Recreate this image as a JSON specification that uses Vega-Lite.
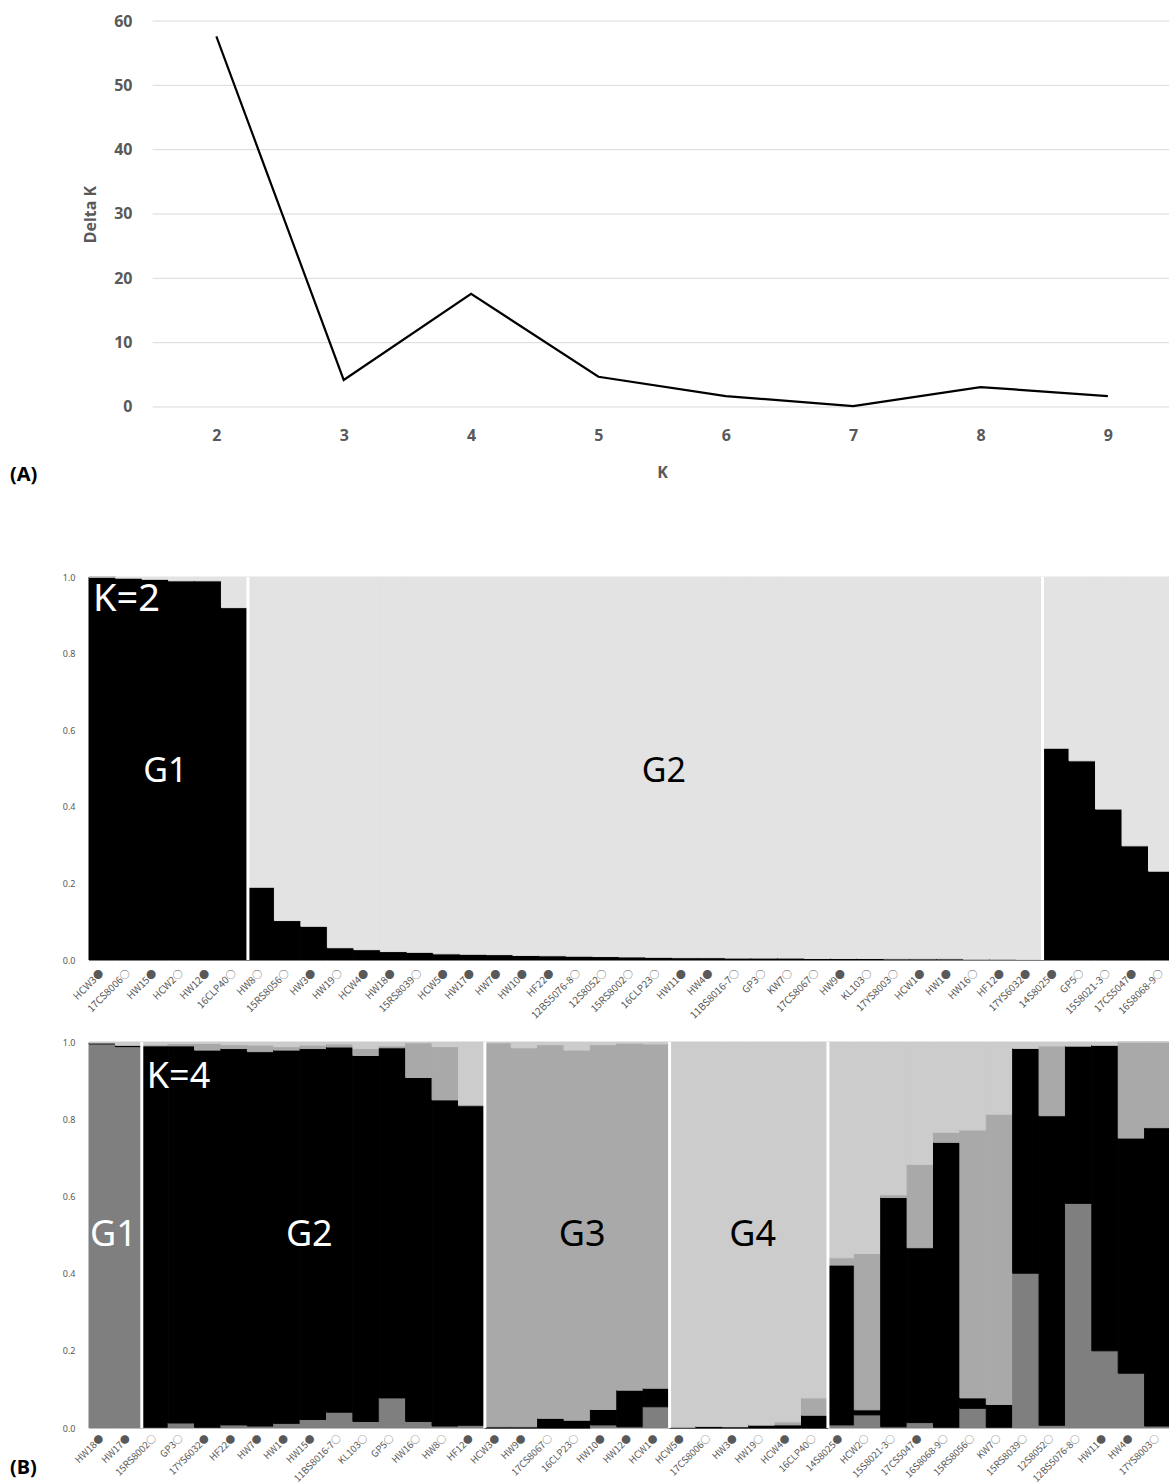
{
  "$schema": "https://vega.github.io/schema/vega-lite/v6.json",
  "padding": {"left": 10, "top": 13, "right": 0, "bottom": 0},
  "bounds": "flush",
  "spacing": 82,
  "resolve": {"scale": {"color": "independent", "stroke": "independent"}},
  "config": {"view": {"stroke": null}, "font": "Noto Sans"},
  "vconcat": [
    {
      "width": 1080,
      "height": 474,
      "layer": [
        {
          "data": {"values": [{"g": 0}, {"g": 10}, {"g": 20}, {"g": 30}, {"g": 40}, {"g": 50}, {"g": 60}]},
          "mark": {"type": "rule", "color": "#d9d9d9", "strokeWidth": 1},
          "encoding": {
            "x": {"datum": 1.5, "type": "quantitative", "scale": {"domain": [1, 9.48], "nice": false, "zero": false}},
            "x2": {"datum": 9.48},
            "y": {"field": "g", "type": "quantitative", "scale": {"domain": [-13.68, 60], "nice": false, "zero": false}}
          }
        },
        {
          "data": {"values": [
            {"K": 2, "dk": 57.6}, {"K": 3, "dk": 4.2}, {"K": 4, "dk": 17.6}, {"K": 5, "dk": 4.7},
            {"K": 6, "dk": 1.7}, {"K": 7, "dk": 0.15}, {"K": 8, "dk": 3.1}, {"K": 9, "dk": 1.7}
          ]},
          "mark": {"type": "line", "color": "#000000", "strokeWidth": 2.2},
          "encoding": {
            "x": {
              "field": "K", "type": "quantitative",
              "scale": {"domain": [1, 9.48], "nice": false, "zero": false},
              "axis": {
                "values": [2, 3, 4, 5, 6, 7, 8, 9], "format": "d", "offset": -88, "domain": false, "ticks": false, "grid": false,
                "labelFontSize": 16, "labelFontWeight": "bold", "labelColor": "#595959", "labelPadding": 20,
                "title": "K", "titleFontSize": 16, "titleFontWeight": "bold", "titleColor": "#595959",
                "titleX": 573, "titleY": 65, "titleBaseline": "middle", "titleAlign": "center"
              }
            },
            "y": {
              "field": "dk", "type": "quantitative",
              "scale": {"domain": [-13.68, 60], "nice": false, "zero": false},
              "axis": {
                "values": [0, 10, 20, 30, 40, 50, 60], "offset": -63, "domain": false, "ticks": false, "grid": false,
                "labelFontSize": 16, "labelFontWeight": "bold", "labelColor": "#595959", "labelPadding": 20,
                "title": "Delta K", "titleFontSize": 16, "titleFontWeight": "bold", "titleColor": "#595959",
                "titleX": -62, "titleY": 193, "titleAngle": -90, "titleBaseline": "middle", "titleAlign": "center"
              }
            }
          }
        },
        {
          "data": {"values": [{"t": "(A)"}]},
          "mark": {"type": "text", "align": "left", "baseline": "middle", "fontSize": 20, "fontWeight": "bold", "color": "#000000", "dx": -79},
          "encoding": {
            "x": {"datum": 1, "type": "quantitative", "scale": {"domain": [1, 9.48], "nice": false, "zero": false}},
            "y": {"datum": -10.5, "type": "quantitative", "scale": {"domain": [-13.68, 60], "nice": false, "zero": false}},
            "text": {"field": "t"}
          }
        }
      ]
    },
    {
      "width": 1086,
      "height": 383,
      "view": {"fill": "#e3e3e3", "stroke": null},
      "layer": [
        {
          "data": {"values": [
            {"ind": "HCW3●", "q1": 1.0, "q2": 0.0},
            {"ind": "17CS8006○", "q1": 0.997, "q2": 0.003},
            {"ind": "HW15●", "q1": 0.994, "q2": 0.006},
            {"ind": "HCW2○", "q1": 0.99, "q2": 0.01},
            {"ind": "HW12●", "q1": 0.99, "q2": 0.01},
            {"ind": "16CLP40○", "q1": 0.92, "q2": 0.08},
            {"ind": "HW8○", "q1": 0.19, "q2": 0.81},
            {"ind": "15RS8056○", "q1": 0.103, "q2": 0.897},
            {"ind": "HW3●", "q1": 0.088, "q2": 0.912},
            {"ind": "HW19○", "q1": 0.032, "q2": 0.968},
            {"ind": "HCW4●", "q1": 0.027, "q2": 0.973},
            {"ind": "HW18●", "q1": 0.022, "q2": 0.978},
            {"ind": "15RS8039○", "q1": 0.02, "q2": 0.98},
            {"ind": "HCW5●", "q1": 0.016, "q2": 0.984},
            {"ind": "HW17●", "q1": 0.015, "q2": 0.985},
            {"ind": "HW7●", "q1": 0.014, "q2": 0.986},
            {"ind": "HW10●", "q1": 0.012, "q2": 0.988},
            {"ind": "HF22●", "q1": 0.011, "q2": 0.989},
            {"ind": "12BS5076-8○", "q1": 0.01, "q2": 0.99},
            {"ind": "12S8052○", "q1": 0.009, "q2": 0.991},
            {"ind": "15RS8002○", "q1": 0.008, "q2": 0.992},
            {"ind": "16CLP23○", "q1": 0.007, "q2": 0.993},
            {"ind": "HW11●", "q1": 0.006, "q2": 0.994},
            {"ind": "HW4●", "q1": 0.006, "q2": 0.994},
            {"ind": "11BS8016-7○", "q1": 0.005, "q2": 0.995},
            {"ind": "GP3○", "q1": 0.005, "q2": 0.995},
            {"ind": "KW7○", "q1": 0.005, "q2": 0.995},
            {"ind": "17CS8067○", "q1": 0.004, "q2": 0.996},
            {"ind": "HW9●", "q1": 0.004, "q2": 0.996},
            {"ind": "KL103○", "q1": 0.004, "q2": 0.996},
            {"ind": "17YS8003○", "q1": 0.003, "q2": 0.997},
            {"ind": "HCW1●", "q1": 0.003, "q2": 0.997},
            {"ind": "HW1●", "q1": 0.003, "q2": 0.997},
            {"ind": "HW16○", "q1": 0.002, "q2": 0.998},
            {"ind": "HF12●", "q1": 0.002, "q2": 0.998},
            {"ind": "17YS6032●", "q1": 0.001, "q2": 0.999},
            {"ind": "14S8025●", "q1": 0.553, "q2": 0.447},
            {"ind": "GP5○", "q1": 0.52, "q2": 0.48},
            {"ind": "15S8021-3○", "q1": 0.394, "q2": 0.606},
            {"ind": "17CS5047●", "q1": 0.298, "q2": 0.702},
            {"ind": "16S8068-9○", "q1": 0.232, "q2": 0.768}
          ]},
          "transform": [{"fold": ["q1", "q2"], "as": ["c", "v"]}],
          "mark": {"type": "bar", "strokeWidth": 1},
          "encoding": {
            "x": {
              "field": "ind", "type": "nominal", "sort": null,
              "scale": {"paddingInner": 0, "paddingOuter": 0},
              "axis": {
                "title": null, "labelAngle": -45, "labelAlign": "right", "labelBaseline": "middle",
                "labelFont": "Noto Sans CJK KR", "labelFontSize": 10, "labelColor": "#595959", "labelPadding": 11, "labelOverlap": false,
                "labelLimit": 0, "ticks": false, "domain": false
              }
            },
            "y": {
              "field": "v", "type": "quantitative", "stack": "zero",
              "scale": {"domain": [0, 1], "nice": false},
              "axis": {
                "title": null, "values": [0, 0.1, 0.2, 0.3, 0.4, 0.5, 0.6, 0.7, 0.8, 0.9, 1.0], "format": ".1f", "labelOverlap": false,
                "labelFontSize": 9, "labelColor": "#595959", "labelPadding": 14, "ticks": false, "domain": false, "grid": false
              }
            },
            "color": {"field": "c", "type": "nominal", "scale": {"domain": ["q1", "q2"], "range": ["#000000", "#e3e3e3"]}, "legend": null},
            "stroke": {"field": "c", "type": "nominal", "scale": {"domain": ["q1", "q2"], "range": ["#000000", "#e3e3e3"]}, "legend": null},
            "order": {"field": "c"}
          }
        },
        {
          "data": {"values": [{"ind": "HW8○"}, {"ind": "14S8025●"}]},
          "mark": {"type": "rule", "color": "#ffffff", "strokeWidth": 3},
          "encoding": {
            "x": {"field": "ind", "type": "nominal", "sort": null, "bandPosition": 0},
            "y": {"datum": 0, "type": "quantitative"},
            "y2": {"datum": 1}
          }
        },
        {
          "data": {"values": [{"ind": "HCW3●", "t": "K=2"}]},
          "mark": {"type": "text", "align": "left", "baseline": "middle", "fontSize": 38, "color": "#ffffff", "dx": 4},
          "encoding": {
            "x": {"field": "ind", "type": "nominal", "sort": null, "bandPosition": 0},
            "y": {"datum": 0.94, "type": "quantitative"},
            "text": {"field": "t"}
          }
        },
        {
          "data": {"values": [{"ind": "HCW2○", "t": "G1"}]},
          "mark": {"type": "text", "align": "center", "baseline": "middle", "fontSize": 34, "color": "#ffffff", "dx": -3},
          "encoding": {
            "x": {"field": "ind", "type": "nominal", "sort": null, "bandPosition": 0},
            "y": {"datum": 0.49, "type": "quantitative"},
            "text": {"field": "t"}
          }
        },
        {
          "data": {"values": [{"ind": "HW11●", "t": "G2"}]},
          "mark": {"type": "text", "align": "center", "baseline": "middle", "fontSize": 34, "color": "#000000", "dx": -8},
          "encoding": {
            "x": {"field": "ind", "type": "nominal", "sort": null, "bandPosition": 0},
            "y": {"datum": 0.49, "type": "quantitative"},
            "text": {"field": "t"}
          }
        }
      ]
    },
    {
      "width": 1082,
      "height": 386,
      "layer": [
        {
          "data": {"values": [
            {"ind": "HW18●", "q1": 0.995, "q2": 0.003, "q3": 0.0, "q4": 0.002},
            {"ind": "HW17●", "q1": 0.988, "q2": 0.004, "q3": 0.0, "q4": 0.008},
            {"ind": "15RS8002○", "q1": 0.002, "q2": 0.988, "q3": 0.003, "q4": 0.007},
            {"ind": "GP3○", "q1": 0.013, "q2": 0.977, "q3": 0.006, "q4": 0.004},
            {"ind": "17YS6032●", "q1": 0.002, "q2": 0.977, "q3": 0.017, "q4": 0.004},
            {"ind": "HF22●", "q1": 0.008, "q2": 0.975, "q3": 0.01, "q4": 0.007},
            {"ind": "HW7●", "q1": 0.005, "q2": 0.97, "q3": 0.017, "q4": 0.008},
            {"ind": "HW1●", "q1": 0.012, "q2": 0.967, "q3": 0.009, "q4": 0.012},
            {"ind": "HW15●", "q1": 0.022, "q2": 0.961, "q3": 0.009, "q4": 0.008},
            {"ind": "11BS8016-7○", "q1": 0.041, "q2": 0.946, "q3": 0.008, "q4": 0.005},
            {"ind": "KL103○", "q1": 0.017, "q2": 0.948, "q3": 0.018, "q4": 0.017},
            {"ind": "GP5○", "q1": 0.078, "q2": 0.907, "q3": 0.005, "q4": 0.01},
            {"ind": "HW16○", "q1": 0.017, "q2": 0.891, "q3": 0.09, "q4": 0.002},
            {"ind": "HW8○", "q1": 0.005, "q2": 0.845, "q3": 0.138, "q4": 0.012},
            {"ind": "HF12●", "q1": 0.007, "q2": 0.828, "q3": 0.003, "q4": 0.162},
            {"ind": "HCW3●", "q1": 0.0, "q2": 0.003, "q3": 0.995, "q4": 0.002},
            {"ind": "HW9●", "q1": 0.0, "q2": 0.003, "q3": 0.982, "q4": 0.015},
            {"ind": "17CS8067○", "q1": 0.0, "q2": 0.025, "q3": 0.968, "q4": 0.007},
            {"ind": "16CLP23○", "q1": 0.0, "q2": 0.02, "q3": 0.959, "q4": 0.021},
            {"ind": "HW10●", "q1": 0.008, "q2": 0.04, "q3": 0.945, "q4": 0.007},
            {"ind": "HW12●", "q1": 0.003, "q2": 0.095, "q3": 0.899, "q4": 0.003},
            {"ind": "HCW1●", "q1": 0.055, "q2": 0.048, "q3": 0.892, "q4": 0.005},
            {"ind": "HCW5●", "q1": 0.0, "q2": 0.002, "q3": 0.001, "q4": 0.997},
            {"ind": "17CS8006○", "q1": 0.0, "q2": 0.004, "q3": 0.001, "q4": 0.995},
            {"ind": "HW3●", "q1": 0.0, "q2": 0.003, "q3": 0.001, "q4": 0.996},
            {"ind": "HW19○", "q1": 0.0, "q2": 0.007, "q3": 0.002, "q4": 0.991},
            {"ind": "HCW4●", "q1": 0.0, "q2": 0.008, "q3": 0.008, "q4": 0.984},
            {"ind": "16CLP40○", "q1": 0.0, "q2": 0.033, "q3": 0.045, "q4": 0.922},
            {"ind": "14S8025●", "q1": 0.008, "q2": 0.414, "q3": 0.019, "q4": 0.559},
            {"ind": "HCW2○", "q1": 0.034, "q2": 0.013, "q3": 0.405, "q4": 0.548},
            {"ind": "15S8021-3○", "q1": 0.003, "q2": 0.594, "q3": 0.007, "q4": 0.396},
            {"ind": "17CS5047●", "q1": 0.014, "q2": 0.453, "q3": 0.216, "q4": 0.317},
            {"ind": "16S8068-9○", "q1": 0.002, "q2": 0.738, "q3": 0.026, "q4": 0.234},
            {"ind": "15RS8056○", "q1": 0.051, "q2": 0.027, "q3": 0.694, "q4": 0.228},
            {"ind": "KW7○", "q1": 0.002, "q2": 0.059, "q3": 0.752, "q4": 0.187},
            {"ind": "15RS8039○", "q1": 0.401, "q2": 0.583, "q3": 0.0, "q4": 0.016},
            {"ind": "12S8052○", "q1": 0.007, "q2": 0.802, "q3": 0.181, "q4": 0.01},
            {"ind": "12BS5076-8○", "q1": 0.582, "q2": 0.408, "q3": 0.0, "q4": 0.01},
            {"ind": "HW11●", "q1": 0.2, "q2": 0.792, "q3": 0.0, "q4": 0.008},
            {"ind": "HW4●", "q1": 0.142, "q2": 0.609, "q3": 0.249, "q4": 0.0},
            {"ind": "17YS8003○", "q1": 0.005, "q2": 0.773, "q3": 0.222, "q4": 0.0}
          ]},
          "transform": [{"fold": ["q1", "q2", "q3", "q4"], "as": ["c", "v"]}],
          "mark": {"type": "bar", "strokeWidth": 1},
          "encoding": {
            "x": {
              "field": "ind", "type": "nominal", "sort": null,
              "scale": {"paddingInner": 0, "paddingOuter": 0},
              "axis": {
                "title": null, "labelAngle": -45, "labelAlign": "right", "labelBaseline": "middle",
                "labelFont": "Noto Sans CJK KR", "labelFontSize": 9.6, "labelColor": "#595959", "labelPadding": 8, "labelOverlap": false,
                "labelLimit": 0, "ticks": false, "domain": false
              }
            },
            "y": {
              "field": "v", "type": "quantitative", "stack": "zero",
              "scale": {"domain": [0, 1], "nice": false},
              "axis": {
                "title": null, "values": [0, 0.1, 0.2, 0.3, 0.4, 0.5, 0.6, 0.7, 0.8, 0.9, 1.0], "format": ".1f", "labelOverlap": false,
                "labelFontSize": 9, "labelColor": "#595959", "labelPadding": 14, "ticks": false, "domain": false, "grid": false
              }
            },
            "color": {"field": "c", "type": "nominal", "scale": {"domain": ["q1", "q2", "q3", "q4"], "range": ["#7f7f7f", "#000000", "#a9a9a9", "#cccccc"]}, "legend": null},
            "stroke": {"field": "c", "type": "nominal", "scale": {"domain": ["q1", "q2", "q3", "q4"], "range": ["#7f7f7f", "#000000", "#a9a9a9", "#cccccc"]}, "legend": null},
            "order": {"field": "c"}
          }
        },
        {
          "data": {"values": [{"ind": "15RS8002○"}, {"ind": "HCW3●"}, {"ind": "HCW5●"}, {"ind": "14S8025●"}]},
          "mark": {"type": "rule", "color": "#ffffff", "strokeWidth": 3},
          "encoding": {
            "x": {"field": "ind", "type": "nominal", "sort": null, "bandPosition": 0},
            "y": {"datum": 0, "type": "quantitative"},
            "y2": {"datum": 1}
          }
        },
        {
          "data": {"values": [{"ind": "HW17●", "t": "G1"}]},
          "mark": {"type": "text", "align": "center", "baseline": "middle", "fontSize": 36, "color": "#ffffff", "dx": -2},
          "encoding": {
            "x": {"field": "ind", "type": "nominal", "sort": null, "bandPosition": 0},
            "y": {"datum": 0.5, "type": "quantitative"},
            "text": {"field": "t"}
          }
        },
        {
          "data": {"values": [{"ind": "15RS8002○", "t": "K=4"}]},
          "mark": {"type": "text", "align": "left", "baseline": "middle", "fontSize": 36, "color": "#ffffff", "dx": 5},
          "encoding": {
            "x": {"field": "ind", "type": "nominal", "sort": null, "bandPosition": 0},
            "y": {"datum": 0.91, "type": "quantitative"},
            "text": {"field": "t"}
          }
        },
        {
          "data": {"values": [{"ind": "HW15●", "t": "G2"}]},
          "mark": {"type": "text", "align": "center", "baseline": "middle", "fontSize": 36, "color": "#ffffff", "dx": -4},
          "encoding": {
            "x": {"field": "ind", "type": "nominal", "sort": null, "bandPosition": 0.5},
            "y": {"datum": 0.5, "type": "quantitative"},
            "text": {"field": "t"}
          }
        },
        {
          "data": {"values": [{"ind": "16CLP23○", "t": "G3"}]},
          "mark": {"type": "text", "align": "center", "baseline": "middle", "fontSize": 36, "color": "#000000", "dx": 5},
          "encoding": {
            "x": {"field": "ind", "type": "nominal", "sort": null, "bandPosition": 0.5},
            "y": {"datum": 0.5, "type": "quantitative"},
            "text": {"field": "t"}
          }
        },
        {
          "data": {"values": [{"ind": "HW19○", "t": "G4"}]},
          "mark": {"type": "text", "align": "center", "baseline": "middle", "fontSize": 36, "color": "#000000", "dx": 4},
          "encoding": {
            "x": {"field": "ind", "type": "nominal", "sort": null, "bandPosition": 0},
            "y": {"datum": 0.5, "type": "quantitative"},
            "text": {"field": "t"}
          }
        },
        {
          "data": {"values": [{"ind": "HW18●", "t": "(B)"}]},
          "mark": {"type": "text", "align": "left", "baseline": "middle", "fontSize": 20, "fontWeight": "bold", "color": "#000000", "dx": -79},
          "encoding": {
            "x": {"field": "ind", "type": "nominal", "sort": null, "bandPosition": 0},
            "y": {"datum": -0.103, "type": "quantitative"},
            "text": {"field": "t"}
          }
        }
      ]
    }
  ]
}
